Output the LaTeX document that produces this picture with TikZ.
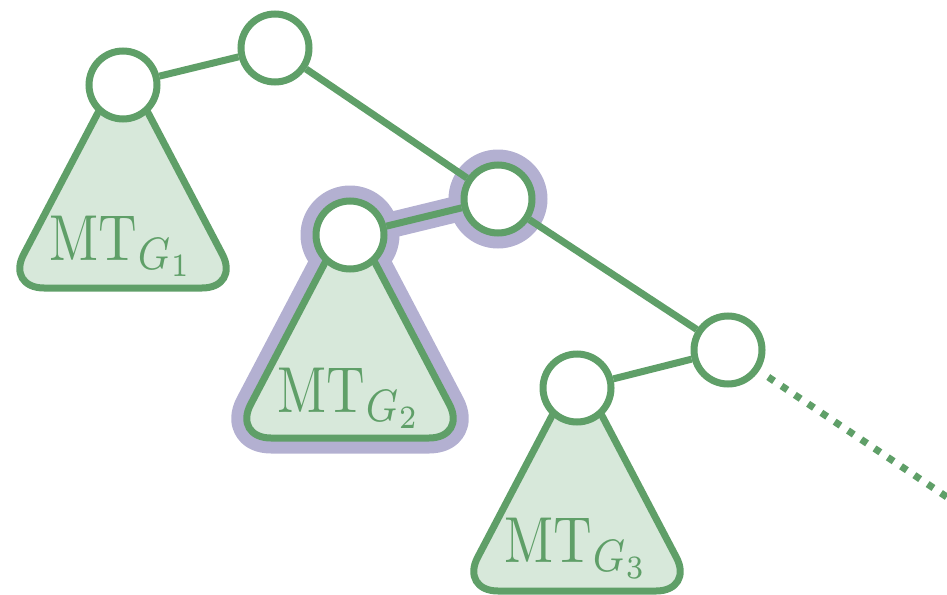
\documentclass[tikz,border=0pt]{standalone}
\usetikzlibrary{calc}
\definecolor{gstroke}{HTML}{5F9F68}
\definecolor{gfill}{HTML}{D7E8DA}
\definecolor{hlpurple}{HTML}{B3B0D1}
\pgfdeclarelayer{bg}
\pgfdeclarelayer{hl}
\pgfsetlayers{hl,bg,main}
\tikzset{
  treenode/.style={circle, draw=gstroke, fill=white, line width=7pt, inner sep=0pt, minimum size=68pt},
  treeedge/.style={draw=gstroke, line width=7pt},
  subtree/.style={draw=gstroke, fill=gfill, line width=7pt, rounded corners=38pt, line join=round},
  mtlabel/.style={anchor=base, xscale=5.35, yscale=6.5, text=gstroke, inner sep=0pt},
  dotedge/.style={draw=gstroke, line width=7pt, dash pattern=on 7pt off 9pt, shorten <=11pt},
  hlarea/.style={draw=hlpurple, fill=hlpurple, line width=31pt, rounded corners=38pt, line join=round},
  hledge/.style={draw=hlpurple, line width=26pt},
  hlring/.style={circle, fill=hlpurple, inner sep=0pt, minimum size=99pt}
}
\begin{document}
\begin{tikzpicture}[x=1pt,y=-1pt]
\useasboundingbox (0,0) rectangle (947,594);
% circle nodes
\node[treenode] (b) at (275,48) {};
\node[treenode] (a) at (123,85) {};
\node[treenode] (c) at (498,199) {};
\node[treenode] (d) at (350,235) {};
\node[treenode] (e) at (728,350) {};
\node[treenode] (f) at (577,388) {};
\coordinate (out) at (990,526);
% subtrees and edges
\begin{pgfonlayer}{bg}
  \foreach \r in {a,d,f} {
    \path[subtree] ($(\r.center)+(0,-20)$) -- ($(\r.center)+(117,203)$) -- ($(\r.center)+(-117,203)$) -- cycle;
  }
  \draw[treeedge] (a) -- (b);
  \draw[treeedge] (b) -- (c);
  \draw[treeedge] (c) -- (d);
  \draw[treeedge] (c) -- (e);
  \draw[treeedge] (e) -- (f);
  \draw[dotedge] (e) -- (out);
\end{pgfonlayer}
% highlight
\begin{pgfonlayer}{hl}
  \path[hlarea] ($(d.center)+(0,-20)$) -- ($(d.center)+(117,203)$) -- ($(d.center)+(-117,203)$) -- cycle;
  \node[hlring] (hc) at (c.center) {};
  \node[hlring] (hd) at (d.center) {};
  \draw[hledge] (hc.center) -- (hd.center);
\end{pgfonlayer}
% labels
\node[mtlabel] (la) at ($(a.center)+(-1,175)$) {$\mathrm{MT}_{G_1}$};
\node[mtlabel] (ld) at ($(d.center)+(0,177)$) {$\mathrm{MT}_{G_2}$};
\node[mtlabel] (lf) at ($(f.center)+(0,174)$) {$\mathrm{MT}_{G_3}$};
\end{tikzpicture}
\end{document}
